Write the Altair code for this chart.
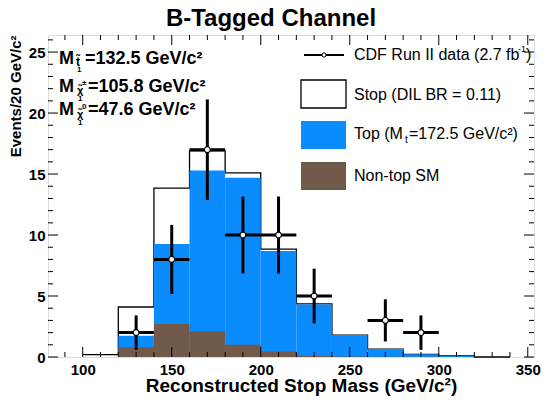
import altair as alt
import pandas as pd

FONT = "Liberation Sans"

# ---- histogram data (bins of 20 GeV/c^2, lower edges) ----
bin_lo = [100, 120, 140, 160, 180, 200, 220, 240, 260, 280, 300, 320]
stop_total = [0.2, 4.1, 13.85, 16.9, 15.1, 8.85, 4.35, 1.8, 0.65, 0.22, 0.12, 0.0]
top_total = [0.0, 1.75, 9.26, 15.3, 14.7, 8.7, 4.3, 1.8, 0.65, 0.22, 0.12, 0.0]
nontop = [0.0, 0.8, 2.7, 2.1, 1.0, 0.45, 0.08, 0.05, 0.03, 0.02, 0.01, 0.0]

# ---- CDF data points ----
mass = [130, 150, 170, 190, 210, 230, 270, 290]
counts = [2, 8, 17, 10, 10, 5, 3, 2]
errs = [1.41, 2.83, 4.12, 3.16, 3.16, 2.24, 1.73, 1.41]

# ---- axis ticks ----
x_labels = [100, 150, 200, 250, 300, 350]
x_minor = [90, 110, 120, 130, 140, 160, 170, 180, 190, 210, 220, 230, 240,
           260, 270, 280, 290, 310, 320, 330, 340]
y_labels = [0, 5, 10, 15, 20, 25]
y_minor = [1, 2, 3, 4, 6, 7, 8, 9, 11, 12, 13, 14, 16, 17, 18, 19, 21, 22, 23, 24, 26]

BLUE = "#0a8cff"
BROWN = "#725a4b"

W, H = 486, 322

hist = pd.DataFrame({"lo": bin_lo, "stop": stop_total, "top": top_total, "nontop": nontop})
step = pd.DataFrame({"edge": bin_lo + [bin_lo[-1] + 20], "stop": stop_total + [0.0]})
pts = pd.DataFrame({"m": mass, "n": counts, "e": errs})
one = pd.DataFrame({"a": [0]})

xs = alt.Scale(domain=[80.5, 353.5], nice=False, zero=False)
ys = alt.Scale(domain=[0, 26.4], nice=False, zero=False)

x_axis = alt.Axis(values=x_labels, ticks=False, domain=False, grid=False,
                  labelFont=FONT, labelFontSize=15, labelFontWeight="bold", labelColor="black",
                  labelPadding=5, title="Reconstructed Stop Mass (GeV/c²)",
                  titleFont=FONT, titleFontSize=19, titleFontWeight="bold", titleColor="black",
                  titleBaseline="alphabetic", titleAnchor="middle", titleAlign="center",
                  titleX=253, titleY=34)
y_axis = alt.Axis(values=y_labels, ticks=False, domain=False, grid=False,
                  labelFont=FONT, labelFontSize=15, labelFontWeight="bold", labelColor="black",
                  labelPadding=3, title="Events/20 GeV/c²", titleAnchor="end",
                  titleFont=FONT, titleFontSize=15, titleFontWeight="bold", titleColor="black",
                  titlePadding=5)


def X(f):
    return alt.X(f, scale=xs, axis=x_axis)


def Y(f):
    return alt.Y(f, scale=ys, axis=y_axis)


# stop outline (step)
stop_line = alt.Chart(step).mark_line(interpolate="step-after", color="black", strokeWidth=1.3).encode(
    x=X("edge:Q"), y=Y("stop:Q"))

top_bars = alt.Chart(hist).transform_calculate(hi="datum.lo + 20").mark_rect(color=BLUE).encode(
    x=X("lo:Q"), x2="hi:Q", y=Y("top:Q"), y2=alt.datum(0))
nt_bars = alt.Chart(hist).transform_calculate(hi="datum.lo + 20").mark_rect(color=BROWN).encode(
    x=X("lo:Q"), x2="hi:Q", y=Y("nontop:Q"), y2=alt.datum(0))

hbar = alt.Chart(pts).transform_calculate(lo="datum.m - 10", hi="datum.m + 10").mark_rule(
    color="black", strokeWidth=3).encode(x=X("lo:Q"), x2="hi:Q", y=Y("n:Q"))
vbar = alt.Chart(pts).transform_calculate(ylo="datum.n - datum.e", yhi="datum.n + datum.e").mark_rule(
    color="black", strokeWidth=3).encode(x=X("m:Q"), y=Y("ylo:Q"), y2="yhi:Q")
dots = alt.Chart(pts).mark_point(shape="circle", filled=True, fill="white", stroke="black",
                                 strokeWidth=1.2, size=35, opacity=1).encode(
    x=X("m:Q"), y=Y("n:Q"))


# ticks (inward, ROOT style)
def xticks(vals, length):
    df = pd.DataFrame({"v": vals})
    b = alt.Chart(df).mark_rule(color="black", strokeWidth=1).encode(
        x=X("v:Q"), y=alt.value(H), y2=alt.value(H - length))
    t = alt.Chart(df).mark_rule(color="black", strokeWidth=1).encode(
        x=X("v:Q"), y=alt.value(0), y2=alt.value(length))
    return [b, t]


def yticks(vals, length):
    df = pd.DataFrame({"v": vals})
    l = alt.Chart(df).mark_rule(color="black", strokeWidth=1).encode(
        y=Y("v:Q"), x=alt.value(0), x2=alt.value(length))
    r = alt.Chart(df).mark_rule(color="black", strokeWidth=1).encode(
        y=Y("v:Q"), x=alt.value(W), x2=alt.value(W - length))
    return [l, r]


ticks = xticks(x_labels, 10) + xticks(x_minor, 5) + yticks(y_labels, 10) + yticks(y_minor, 5)


def txt(s, x, y, size, weight="normal", align="left"):
    return alt.Chart(one).mark_text(text=s, font=FONT, fontSize=size, fontWeight=weight,
                                    align=align, baseline="middle", color="black").encode(
        x=alt.value(x), y=alt.value(y))


LX = 306  # legend text x (plot coordinates)
annots = [
    txt("B-Tagged Channel", 223, -16, 24, "bold", "center"),
    # mass labels
    txt("M", 11, 23.5, 18, "bold"),
    txt("t\u0303", 28, 27, 12, "bold"),
    txt("1", 29, 35, 8, "bold"),
    txt("=132.5 GeV/c²", 37, 23.5, 18, "bold"),
    txt("M", 11, 51.5, 18, "bold"),
    txt("\u03c7\u0303", 29, 56, 11, "bold"),
    txt("±", 34, 48, 8, "bold"),
    txt("1", 30, 64, 8, "bold"),
    txt("=105.8 GeV/c²", 40, 51.5, 18, "bold"),
    txt("M", 11, 74.5, 18, "bold"),
    txt("\u03c7\u0303", 29, 79.5, 11, "bold"),
    txt("0", 34, 71.5, 8, "bold"),
    txt("1", 30, 87.5, 8, "bold"),
    txt("=47.6 GeV/c²", 40, 74.5, 18, "bold"),
    # legend texts
    txt("CDF Run II data (2.7 fb", LX, 20, 16),
    txt("-1", LX + 164, 14, 9),
    txt(")", LX + 172, 20, 16),
    txt("Stop (DIL BR = 0.11)", LX, 60, 16),
    txt("Top (M", LX, 99, 16),
    txt("t", LX + 51, 105, 10),
    txt("=172.5 GeV/c²)", LX + 55, 99, 16),
    txt("Non-top SM", LX, 141, 16),
]

legend_marks = [
    alt.Chart(one).mark_rule(color="black", strokeWidth=2).encode(
        x=alt.value(LX - 50), x2=alt.value(LX - 10), y=alt.value(20)),
    alt.Chart(one).mark_point(shape="circle", filled=True, fill="white", stroke="black",
                              strokeWidth=1, size=18, opacity=1).encode(
        x=alt.value(LX - 30), y=alt.value(20)),
    alt.Chart(one).mark_rect(fill="white", stroke="black", strokeWidth=1.3).encode(
        x=alt.value(LX - 53), x2=alt.value(LX - 8), y=alt.value(45), y2=alt.value(73)),
    alt.Chart(one).mark_rect(color=BLUE).encode(
        x=alt.value(LX - 53), x2=alt.value(LX - 8), y=alt.value(86), y2=alt.value(114)),
    alt.Chart(one).mark_rect(color=BROWN).encode(
        x=alt.value(LX - 53), x2=alt.value(LX - 8), y=alt.value(127), y2=alt.value(155)),
]

chart = alt.layer(
    stop_line, top_bars, nt_bars, hbar, vbar, dots, *ticks, *annots, *legend_marks
).properties(
    width=W, height=H,
    autosize=alt.AutoSizeParams(type="none"),
    padding={"left": 40, "top": 27, "right": 7, "bottom": 39},
).configure_view(stroke="black", strokeWidth=1.2).configure(background="white")

chart.save("out.html", embed_options={"renderer": "svg", "actions": False})
